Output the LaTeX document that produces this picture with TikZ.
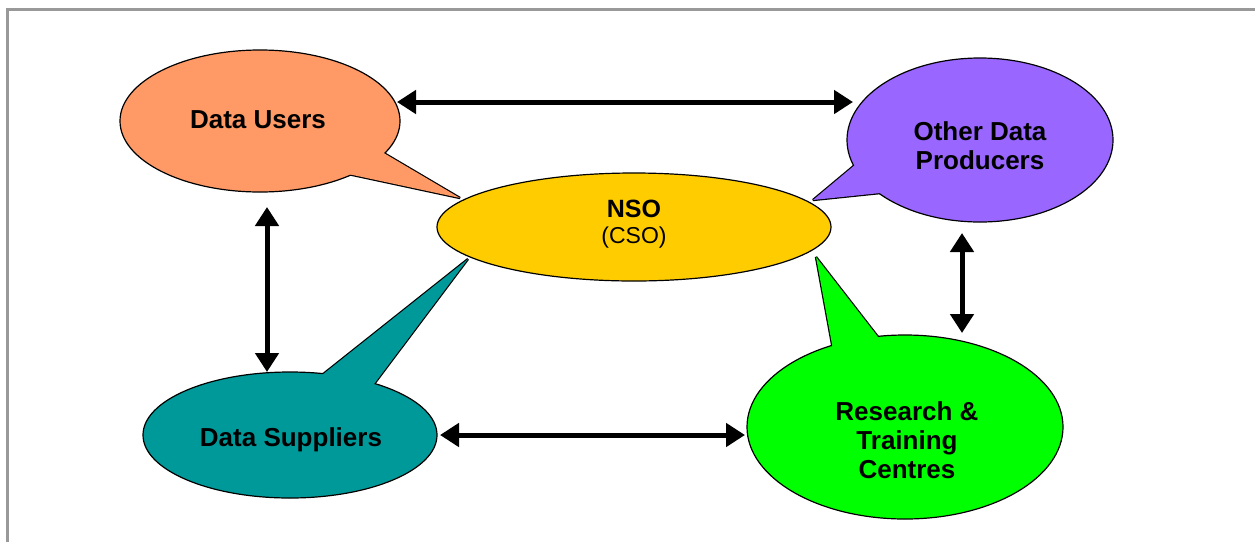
\documentclass[tikz,border=0pt]{standalone}
\usepackage{fontspec}
\setmainfont{Liberation Sans}
\usetikzlibrary{shapes.geometric,arrows.meta}
\pgfdeclarelayer{bg}
\pgfsetlayers{bg,main}
\definecolor{cUsers}{HTML}{FF9966}
\definecolor{cOther}{HTML}{9966FF}
\definecolor{cNSO}{HTML}{FFCC00}
\definecolor{cSupp}{HTML}{009999}
\definecolor{cRes}{HTML}{00FF00}
\definecolor{cFrame}{HTML}{999999}
\begin{document}
\begin{tikzpicture}[x=1pt,y=-1pt,
  bubble/.style={ellipse, draw=black, line width=1.2pt, inner sep=0pt, outer sep=0pt},
  tailline/.style={draw=black, line width=2.4pt, line join=bevel},
  lbl/.style={font=\fontsize{26}{29}\selectfont\bfseries, align=center},
  arr/.style={{Triangle[length=19pt,width=23pt]}-{Triangle[length=19pt,width=23pt]}, line width=5pt}
]
\useasboundingbox (0,0) rectangle (1255,542);
\draw[cFrame, line width=3pt] (7.5,542) -- (7.5,9.5) -- (1255,9.5);

\begin{pgfonlayer}{bg}
% Data Users
\draw[tailline] (343,129) -- (460,198) -- (320,168) -- cycle;
\node[bubble, fill=cUsers, minimum width=280pt, minimum height=142pt] (users) at (260,121) {};
\fill[cUsers] (343,129) -- (460,198) -- (320,168) -- cycle;
% Other Data Producers
\draw[tailline] (892,134) -- (813,200) -- (948,186) -- cycle;
\node[bubble, fill=cOther, minimum width=266pt, minimum height=164pt] (other) at (980,140) {};
\fill[cOther] (892,134) -- (813,200) -- (948,186) -- cycle;
% Data Suppliers
\draw[tailline] (278,410) -- (468,259) -- (347,420) -- cycle;
\node[bubble, fill=cSupp, minimum width=294pt, minimum height=126pt] (supp) at (290,435) {};
\fill[cSupp] (278,410) -- (468,259) -- (347,420) -- cycle;
% Research & Training Centres
\draw[tailline] (838,377) -- (816,257) -- (899,364) -- cycle;
\node[bubble, fill=cRes, minimum width=316pt, minimum height=184pt] (res) at (905,427) {};
\fill[cRes] (838,377) -- (816,257) -- (899,364) -- cycle;
% NSO
\node[bubble, fill=cNSO, minimum width=394pt, minimum height=108pt] (nso) at (634,227) {};
\end{pgfonlayer}

\node[lbl] (usersT) at (258,120) {Data Users};
\node[lbl] (otherT) at (980,146) {Other Data\\Producers};
\node[lbl] (suppT) at (291,440) {Data Suppliers};
\node[lbl] (resT) at (907,440) {Research \&\\Training\\Centres};
\node[font=\fontsize{25}{29}\selectfont\bfseries] (nsoT) at (634,209) {NSO};
\node[font=\fontsize{23}{29}\selectfont] (csoT) at (634,238) {(CSO)};

\coordinate (uR) at (397,102);
\coordinate (oL) at (853,102);
\coordinate (uB) at (267,207);
\coordinate (sT) at (267,372);
\coordinate (oB) at (962,233);
\coordinate (rT) at (962,333);
\coordinate (sR) at (440,435);
\coordinate (rL) at (745,435);
\draw[arr] (uR) -- (oL);
\draw[arr] (uB) -- (sT);
\draw[arr] (oB) -- (rT);
\draw[arr] (sR) -- (rL);
\end{tikzpicture}
\end{document}
